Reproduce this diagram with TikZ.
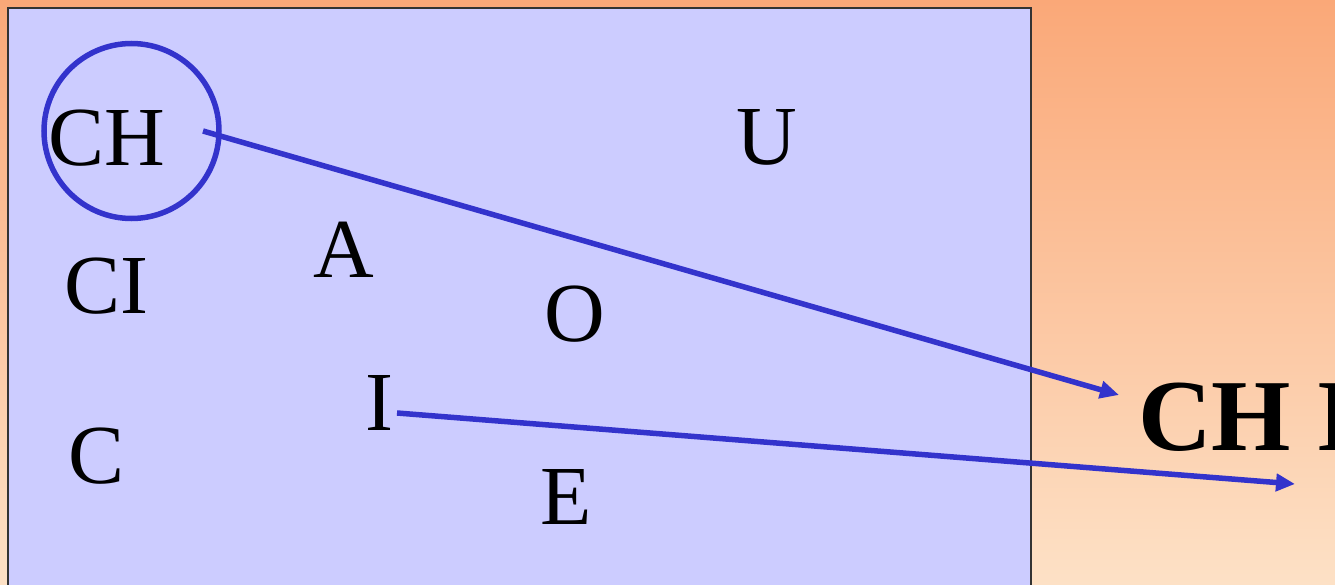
\documentclass[tikz,border=0pt]{standalone}
\usepackage{fontspec}
\setmainfont{Liberation Serif}
\usetikzlibrary{arrows.meta}
\definecolor{lav}{RGB}{204,204,255}
\definecolor{linkblue}{RGB}{51,51,204}
\definecolor{bgtop}{RGB}{250,168,120}
\definecolor{bgmid}{RGB}{250,194,142}
\definecolor{bgbot}{RGB}{253,225,198}
\tikzset{
  letter/.style={anchor=base, inner sep=0pt, font=\fontsize{84}{90}\selectfont},
  result/.style={anchor=base west, inner sep=0pt, font=\fontsize{102}{110}\selectfont\bfseries},
  link/.style={draw=linkblue, line width=5.5pt, -{Triangle[length=19pt,width=17pt]}},
  ring/.style={circle, draw=linkblue, line width=5.5pt, minimum size=175pt, inner sep=0pt},
}
\begin{document}
\begin{tikzpicture}[x=1pt,y=-1pt]
\useasboundingbox (0,0) rectangle (1335,585);
\clip (0,0) rectangle (1335,585);
\shade[top color=bgtop, middle color=bgmid, bottom color=bgbot] (0,0) rectangle (1335,585);
\draw[fill=lav, draw=black!80, line width=1.5pt] (8,8) rectangle (1031,600);
\node[ring] (circ) at (131.5,131) {};
\node[letter] (ch) at (106.5,166) {CH};
\node[letter] (u) at (767,165) {U};
\node[letter] (a) at (344,277) {A};
\node[letter] (ci) at (106.5,313) {CI};
\node[letter] (o) at (574.5,341) {O};
\node[letter] (i) at (379,430) {I};
\node[letter] (c) at (97,483) {C};
\node[letter] (e) at (566,524) {E};
\node[result] (chi) at (1138,450) {CH I};
\coordinate (s1) at (203,131);
\coordinate (t1) at (1119,395);
\coordinate (s2) at (397,413);
\coordinate (t2) at (1295,484);
\draw[link] (s1) -- (t1);
\draw[link] (s2) -- (t2);
\end{tikzpicture}
\end{document}
